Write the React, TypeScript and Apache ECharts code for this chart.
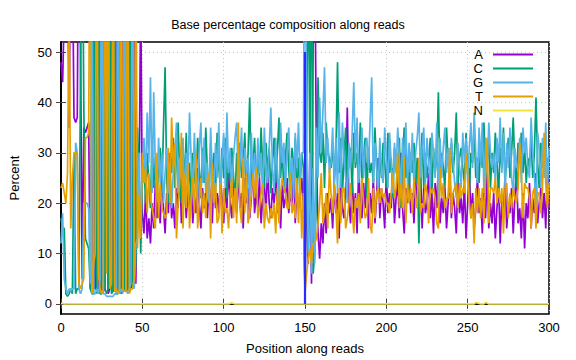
import React, { useEffect, useRef } from "react";
import * as echarts from "echarts";

const TITLE = "Base percentage composition along reads";
const X_NAME = "Position along reads";
const Y_NAME = "Percent";
const X_TICKS = [0, 50, 100, 150, 200, 250, 300];
const Y_TICKS = [0, 10, 20, 30, 40, 50];
const BASES = ["A", "C", "G", "T", "N"];
const COLORS = ["#9400d3", "#009e73", "#56b4e9", "#e69f00", "#f0e442"];

// value per read position 0..300
const A = [
  48, 44, 58, 75, 70, 35, 80, 70, 37, 36,
  37, 90, 50, 5, 35, 34, 35, 36, 3, 5,
  88, 3, 3, 2, 90, 3, 2.5, 3, 90, 2,
  3, 92, 3, 2.5, 93, 2, 3, 2, 92, 3,
  2.5, 3, 92, 3, 4, 88, 4, 28, 22, 62,
  18, 14, 22, 13, 17, 12, 20, 15, 24, 17,
  21, 16, 25, 19, 14, 22, 18, 26, 17, 20,
  15, 23, 19, 28, 16, 21, 24, 17, 22, 19,
  25, 16, 21, 18, 27, 20, 15, 23, 19, 22,
  17, 24, 20, 16, 26, 19, 22, 18, 25, 21,
  16, 23, 19, 27, 20, 17, 24, 21, 18, 26,
  19, 22, 15, 25, 20, 23, 17, 21, 28, 18,
  22, 19, 25, 16, 21, 24, 18, 27, 20, 17,
  23, 20, 26, 18, 22, 15, 24, 19, 21, 25,
  18, 22, 20, 27, 16, 23, 19, 21, 25,
  20, 3, 25, 8, 30, 4, 55, 70, 30, 14, 9, 16, 12, 20, 14, 22, 18,
  21, 15, 24, 18, 22, 13, 26, 19, 17, 23,
  39, 20, 16, 25, 18, 22, 14, 27, 20, 17,
  24, 19, 28, 15, 22, 18, 25, 16, 21, 29,
  17, 23, 20, 15, 26, 18, 22, 19, 27, 16,
  21, 24, 17, 30, 19, 14, 23, 20, 26, 18,
  22, 16, 25, 19, 21, 27, 15, 23, 18, 20,
  26, 17, 22, 14, 24, 19, 28, 16, 21, 18,
  23, 15, 20, 26, 17, 22, 19, 14, 25, 18,
  21, 16, 24, 13, 20, 27, 17, 22, 15, 19,
  25, 18, 21, 14, 23, 17, 26, 15, 20, 16,
  22, 13, 19, 24, 12, 21, 17, 26, 15, 20,
  18, 23, 14, 21, 27, 16, 19, 13, 22, 11,
  20, 17, 24, 15, 21, 18, 26, 16, 20, 23,
  17, 22, 15, 27, 19,
];

const C = [
  17, 15, 15, 2, 1.5, 2, 3, 2, 30, 2,
  3, 3, 45, 88, 40, 13, 12, 11, 3, 2,
  2, 85, 2, 90, 2, 2, 92, 3, 2, 3,
  92, 2, 2.5, 93, 2, 2, 92, 3, 3, 2.5,
  92, 3, 3, 90, 3, 4, 8, 35, 26, 10,
  24, 28, 20, 30, 24, 19, 33, 23, 29, 21,
  27, 31, 22, 35, 47, 24, 20, 30, 26, 33,
  23, 29, 36, 25, 20, 31, 24, 34, 22, 28,
  20, 30, 25, 23, 33, 27, 21, 31, 24, 35,
  26, 21, 32, 25, 30, 22, 34, 27, 23, 31,
  25, 33, 21, 29, 24, 31, 26, 20, 30, 23,
  32, 25, 28, 34, 22, 30, 41, 24, 27, 33,
  22, 30, 25, 35, 27, 23, 32, 26, 31, 22,
  28, 33, 24, 30, 37, 25, 31, 22, 29, 34,
  27, 21, 31, 25, 33, 20, 29, 24, 30,
  27, 1, 35, 72, 28, 82, 6, 10, 22, 45, 30, 28, 34, 23, 36, 30, 29,
  27, 32, 24, 30, 48, 26, 33, 22, 29, 35,
  24, 28, 31, 22, 34, 27, 30, 25, 36, 23,
  29, 33, 21, 31, 26, 28, 24, 35, 27, 22,
  30, 25, 32, 28, 23, 34, 26, 29, 21, 31,
  27, 24, 33, 19, 29, 35, 25, 28, 22, 30,
  26, 32, 24, 29, 12, 27, 34, 23, 30, 25,
  28, 33, 22, 31, 26, 29, 42, 24, 30, 27,
  23, 35, 28, 25, 32, 26, 30, 38, 24, 29,
  31, 27, 24, 34, 26, 22, 30, 28, 35, 25,
  29, 24, 32, 27, 36, 25, 28, 33, 23, 30,
  26, 34, 28, 22, 31, 27, 35, 24, 29, 33,
  25, 30, 37, 27, 23, 32, 28, 34, 26, 31,
  24, 29, 27, 33, 25, 30, 41, 28, 23, 32,
  27, 31, 25, 29, 26,
];

const G = [
  12, 18, 5, 3, 2, 3, 2.5, 3, 3, 32,
  30, 3, 2, 3, 20, 20, 20, 19, 4, 92,
  2, 2, 3, 2, 5, 93, 2, 2, 1.5, 1.5,
  1.5, 1.5, 1.5, 2, 2, 94, 2, 3, 2, 92,
  3, 2, 3, 4, 90, 3, 12, 13, 30, 15,
  26, 33, 24, 38, 28, 45, 22, 42, 27, 21,
  33, 24, 30, 20, 26, 31, 22, 28, 19, 26,
  30, 36, 22, 29, 25, 33, 20, 30, 24, 38,
  29, 22, 34, 25, 21, 31, 36, 24, 33, 22,
  28, 20, 35, 26, 22, 32, 25, 36, 21, 29,
  34, 23, 38, 26, 31, 21, 29, 33, 36, 24,
  28, 35, 22, 31, 26, 29, 19, 34, 25, 30,
  23, 33, 26, 30, 21, 35, 27, 24, 31, 39,
  27, 22, 33, 26, 20, 36, 28, 32, 23, 30,
  35, 25, 29, 21, 34, 27, 36, 24, 30,
  30, 94, 32, 10, 30, 6, 27, 8, 35, 25, 41, 30, 38, 47, 28, 33, 26,
  28, 35, 24, 33, 22, 38, 23, 36, 29, 25,
  20, 32, 27, 34, 44, 28, 37, 24, 28, 35,
  25, 31, 33, 27, 36, 45, 24, 32, 28, 22,
  33, 26, 24, 35, 29, 23, 34, 28, 22, 32,
  26, 35, 29, 22, 33, 27, 36, 24, 32, 26,
  34, 23, 30, 33, 38, 25, 31, 35, 24, 33,
  28, 23, 34, 30, 25, 36, 20, 33, 25, 31,
  35, 26, 31, 22, 33, 28, 24, 21, 32, 27,
  23, 34, 28, 33, 24, 31, 36, 27, 38, 30,
  24, 35, 28, 36, 22, 33, 26, 36, 30, 27,
  30, 24, 33, 28, 37, 26, 34, 23, 32, 27,
  35, 25, 22, 31, 28, 26, 33, 24, 35, 30,
  33, 27, 25, 37, 30, 26, 18, 34, 31, 23,
  33, 25, 36, 22, 31,
];

const T = [
  23, 24, 22, 20, 26, 60, 15, 25, 30, 30,
  30, 4, 3, 4, 5, 33, 33, 34, 90, 2,
  8, 10, 92, 6, 3, 2, 3, 92, 6, 93,
  3, 4, 93, 2.5, 3, 2, 3, 92, 3, 2.5,
  2.5, 92, 2, 3, 3, 5, 76, 11, 22, 13,
  30, 24, 27, 18, 26, 21, 19, 17, 15, 30,
  17, 24, 19, 18, 17, 18, 31, 20, 37, 27,
  32, 13, 20, 24, 34, 15, 26, 19, 28, 15,
  21, 25, 18, 30, 15, 20, 25, 18, 22, 17,
  25, 26, 13, 28, 20, 24, 16, 17, 24, 14,
  23, 18, 19, 15, 22, 25, 17, 23, 16, 36,
  19, 16, 29, 18, 26, 16, 18, 22, 26, 21,
  27, 17, 19, 22, 24, 15, 20, 17, 16, 19,
  17, 20, 14, 23, 16, 22, 25, 23, 22, 19,
  19, 26, 18, 20, 17, 25, 16, 25, 13,
  22, 2, 6, 9, 11, 8, 12, 12, 13, 16, 20, 26, 16, 18, 22, 15, 27,
  22, 18, 24, 19, 12, 23, 16, 23, 23, 15,
  17, 20, 24, 19, 14, 21, 19, 22, 16, 25,
  20, 17, 18, 25, 16, 14, 23, 17, 22, 23,
  20, 23, 21, 22, 20, 20, 18, 22, 26, 21,
  23, 30, 19, 24, 19, 29, 16, 24, 20, 23,
  18, 25, 21, 19, 29, 18, 20, 19, 24, 22,
  16, 23, 22, 23, 21, 16, 15, 27, 21, 24,
  19, 21, 21, 31, 18, 22, 23, 24, 19, 24,
  21, 23, 22, 30, 26, 20, 17, 20, 12, 23,
  18, 23, 17, 23, 16, 25, 33, 16, 23, 23,
  22, 25, 20, 23, 20, 23, 14, 23, 24, 17,
  22, 19, 23, 21, 20, 23, 32, 26, 17, 24,
  23, 23, 21, 15, 22, 23, 15, 22, 22, 18,
  23, 34, 24, 19, 24,
];

const N = [
  0.1, 0.1, 0, 0, 0, 0, 0, 0, 0, 0, 0, 0, 0, 0, 0, 0, 0, 0, 0, 0,
  0, 0, 0, 0, 0, 0, 0, 0, 0, 0, 0, 0, 0, 0, 0, 0, 0, 0, 0, 0,
  0, 0, 0, 0, 0, 0, 0, 0, 0, 0, 0, 0, 0, 0, 0, 0, 0, 0, 0, 0,
  0, 0, 0, 0, 0, 0, 0, 0, 0, 0, 0, 0, 0, 0, 0, 0, 0, 0, 0, 0,
  0, 0, 0, 0, 0, 0, 0, 0, 0, 0, 0, 0, 0, 0, 0, 0, 0, 0, 0, 0,
  0, 0, 0, 0, 0.1, 0.25, 0.1, 0, 0, 0, 0, 0, 0, 0, 0, 0, 0, 0, 0, 0,
  0, 0, 0, 0, 0, 0, 0, 0, 0, 0, 0, 0, 0, 0, 0, 0, 0, 0, 0, 0,
  0, 0, 0, 0, 0, 0, 0, 0, 0, 0, 0, 0, 0, 0, 0, 0, 0, 0, 0, 0,
  0, 0, 0, 0, 0, 0, 0, 0, 0, 0, 0, 0, 0, 0, 0, 0, 0, 0, 0, 0,
  0, 0, 0, 0, 0, 0, 0, 0, 0, 0, 0, 0, 0, 0, 0, 0, 0, 0, 0, 0,
  0, 0, 0, 0, 0, 0, 0, 0, 0, 0, 0, 0, 0, 0, 0, 0, 0, 0, 0, 0,
  0, 0, 0, 0, 0, 0, 0, 0, 0, 0, 0, 0, 0, 0, 0, 0, 0, 0, 0, 0,
  0, 0, 0, 0, 0, 0, 0, 0, 0, 0, 0, 0, 0, 0, 0, 0.3, 0.2, 0.1, 0, 0,
  0, 0.3, 0.2, 0, 0, 0, 0, 0, 0, 0, 0, 0, 0, 0, 0, 0, 0, 0, 0, 0,
  0, 0, 0, 0, 0, 0, 0, 0, 0, 0, 0, 0, 0, 0, 0, 0, 0, 0, 0, 0,
  0,
];

// marker of the second read start
const MARK_X = 150;
const MARK_Y = [0, 50];

const SERIES_VALUES = [A, C, G, T, N];

export default function App() {
  const ref = useRef<HTMLDivElement>(null);
  useEffect(() => {
    if (!ref.current) return;
    const chart = echarts.init(ref.current, null, { renderer: "svg" });
    const font = "'Liberation Sans', Arial, sans-serif";
    const gridLine = { show: true, lineStyle: { color: "#c4c4c4", type: [1, 3], width: 1 } };
    const series: any[] = SERIES_VALUES.map((vals, k) => ({
      name: BASES[k],
      type: "line",
      data: vals.map((v, i) => [i, v]),
      showSymbol: false,
      symbol: "none",
      clip: true,
      lineStyle: { color: COLORS[k], width: 1.7 },
      itemStyle: { color: COLORS[k] },
    }));
    series.push({
      name: "mark",
      type: "line",
      data: MARK_Y.map((y) => [MARK_X, y]),
      showSymbol: false,
      symbol: "none",
      lineStyle: { color: "#2b2bff", width: 2.2 },
      z: 3,
    });
    chart.setOption({
      animation: false,
      textStyle: { fontFamily: font },
      title: {
        text: TITLE,
        left: "center",
        top: 13,
        textStyle: { fontFamily: font, fontSize: 12.5, fontWeight: "normal", color: "#000" },
      },
      legend: {
        data: BASES,
        orient: "vertical",
        align: "right",
        right: 43,
        top: 48,
        itemGap: 1,
        itemWidth: 40,
        itemHeight: 2,
        icon: "rect",
        selectedMode: false,
        padding: 0,
        textStyle: { fontFamily: font, fontSize: 13, lineHeight: 13, color: "#000", padding: [0, 5, 0, 0] },
      },
      grid: {
        left: 60,
        right: 27,
        top: 42,
        bottom: 45,
        show: true,
        borderColor: "#000",
        borderWidth: 1.5,
        backgroundColor: "transparent",
      },
      xAxis: [
        {
          type: "value",
          min: X_TICKS[0],
          max: X_TICKS[X_TICKS.length - 1],
          interval: 50,
          name: X_NAME,
          nameLocation: "middle",
          nameGap: 28,
          nameTextStyle: { fontFamily: font, fontSize: 13, color: "#000" },
          axisLine: { show: true, lineStyle: { color: "#000", width: 1.5 } },
          axisTick: { show: true, inside: true, length: 5, lineStyle: { color: "#444" } },
          axisLabel: { show: true, margin: 7, fontSize: 13, color: "#000", fontFamily: font },
          splitLine: gridLine,
        },
        {
          type: "value",
          position: "top",
          min: X_TICKS[0],
          max: X_TICKS[X_TICKS.length - 1],
          interval: 50,
          axisLine: { show: true, lineStyle: { color: "#000", width: 1.5 } },
          axisTick: { show: true, inside: true, length: 5, lineStyle: { color: "#444" } },
          axisLabel: { show: false },
          splitLine: { show: false },
        },
      ],
      yAxis: [
        {
          type: "value",
          min: -2,
          max: 52,
          name: Y_NAME,
          nameLocation: "middle",
          nameGap: 40,
          nameRotate: 90,
          nameTextStyle: { fontFamily: font, fontSize: 13, color: "#000" },
          axisLine: { show: true, lineStyle: { color: "#000", width: 1.5 } },
          axisTick: { show: true, inside: true, length: 5, customValues: Y_TICKS, lineStyle: { color: "#444" } },
          axisLabel: { show: true, margin: 9, fontSize: 13, color: "#000", fontFamily: font, customValues: Y_TICKS },
          splitLine: gridLine,
        },
        {
          type: "value",
          position: "right",
          min: -2,
          max: 52,
          axisLine: { show: true, lineStyle: { color: "#000", width: 1.5 } },
          axisTick: { show: true, inside: true, length: 5, customValues: Y_TICKS, lineStyle: { color: "#444" } },
          axisLabel: { show: false, customValues: Y_TICKS },
          splitLine: { show: false },
        },
      ],
      series,
    });
    return () => chart.dispose();
  }, []);
  return <div ref={ref} style={{ position: "absolute", left: 0, top: 0, width: 576, height: 360 }} />;
}
